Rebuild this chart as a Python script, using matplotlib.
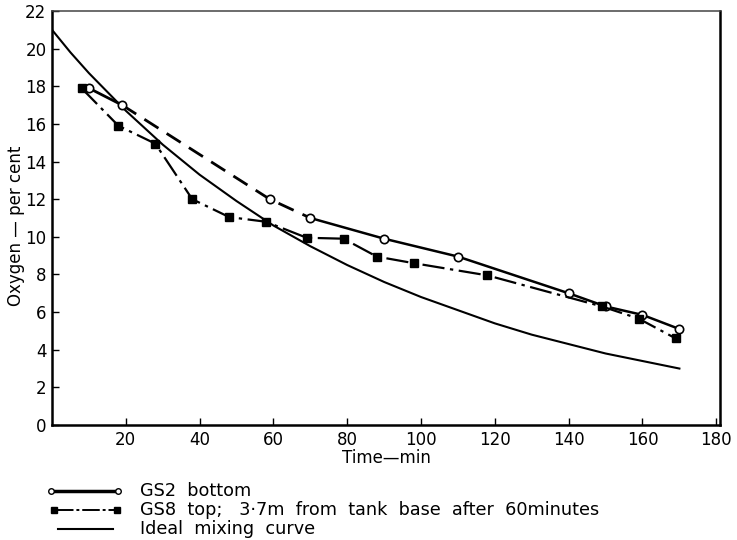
import matplotlib
matplotlib.use("Agg")
import matplotlib.pyplot as plt
from matplotlib.lines import Line2D

plt.rcParams["font.family"] = ["DejaVu Sans"]

# GS2 bottom (open circles)
gs2_time = [10, 19, 59, 70, 90, 110, 140, 150, 160, 170]
gs2_oxygen = [17.9, 17.0, 12.0, 11.0, 9.9, 8.95, 7.0, 6.3, 5.85, 5.1]

# GS8 top (filled squares)
gs8_time = [8, 18, 28, 38, 48, 58, 69, 79, 88, 98, 118, 149, 159, 169]
gs8_oxygen = [17.9, 15.9, 14.95, 12.0, 11.05, 10.8, 9.95, 9.9, 8.95, 8.6, 7.95, 6.3, 5.65, 4.6]

# ideal mixing curve
ideal_time = [0, 5, 10, 15, 20, 25, 30, 40, 50, 60, 70, 80, 90, 100, 110, 120, 130, 140,
              150, 160, 170]
ideal_oxygen = [21.0, 19.8, 18.7, 17.7, 16.7, 15.8, 14.9, 13.3, 11.9, 10.6, 9.5, 8.5,
                7.6, 6.8, 6.1, 5.4, 4.8, 4.3, 3.8, 3.4, 3.0]

x_ticks = [20, 40, 60, 80, 100, 120, 140, 160, 180]
y_ticks = [0, 2, 4, 6, 8, 10, 12, 14, 16, 18, 20, 22]

W, H = 737, 540
fig = plt.figure(figsize=(W / 100, H / 100), dpi=100)
ax = fig.add_axes([52 / W, 1 - 425 / H, (720 - 52) / W, (425 - 11) / H])

ax.plot(ideal_time, ideal_oxygen, color="black", lw=1.5, solid_joinstyle="round")

# GS2: solid, with a dashed stretch between 19 and 70 min
ax.plot(gs2_time[:2], gs2_oxygen[:2], color="black", lw=2)
ax.plot(gs2_time[1:4], gs2_oxygen[1:4], color="black", lw=2, dashes=(6, 3.5))
ax.plot(gs2_time[3:], gs2_oxygen[3:], color="black", lw=1.8)
ax.plot(gs2_time, gs2_oxygen, "o", ms=6, mfc="white", mec="black", mew=1.2)

ax.plot(gs8_time, gs8_oxygen, color="black", lw=1.6, dashes=(10, 2.5, 1.5, 2.5),
        marker="s", ms=5.5, mfc="black", mec="black")

ax.set_xlim(0, 181)
ax.set_ylim(0, 22)
ax.set_xticks(x_ticks)
ax.set_yticks(y_ticks)
ax.tick_params(direction="in", length=5, width=1, labelsize=12, pad=4)
for side in ["left", "bottom", "right"]:
    ax.spines[side].set_linewidth(1.8)
ax.spines["top"].set_linewidth(1.1)
ax.spines["top"].set_color("#444444")

ax.set_xlabel("Time\u2014min", fontsize=12, labelpad=0)
ax.set_ylabel("Oxygen \u2014 per cent", fontsize=12)
ax.yaxis.set_label_coords(-0.04, 0.48)

# legend drawn below the axes
def px(x, y):
    return x / W, 1 - y / H

legend_rows = [
    (491, "GS2  bottom"),
    (510, "GS8  top;   3\u00b77m  from  tank  base  after  60minutes"),
    (529, "Ideal  mixing  curve"),
]

x0, y0 = px(55, 491)
x1, _ = px(114, 491)
fig.add_artist(Line2D([x0, x1], [y0, y0], color="black", lw=2.5))
fig.add_artist(Line2D([51 / W, 118 / W], [y0, y0], ls="none", marker="o", ms=4,
                      mfc="white", mec="black", mew=1))

x0, y0 = px(56, 510)
x1, _ = px(115, 510)
fig.add_artist(Line2D([x0, x1], [y0, y0], color="black", lw=1.4, dashes=(9, 1.5, 1.5, 1.5)))
fig.add_artist(Line2D([54 / W, 117 / W], [y0, y0], ls="none", marker="s", ms=4,
                      mfc="black", mec="black"))

x0, y0 = px(58, 529)
x1, _ = px(113, 529)
fig.add_artist(Line2D([x0, x1], [y0, y0], color="black", lw=1.5))

for y, label in legend_rows:
    fig.text(140 / W, 1 - y / H, label, fontsize=12.7, va="center", ha="left")

fig.savefig("out.png", dpi=100)
